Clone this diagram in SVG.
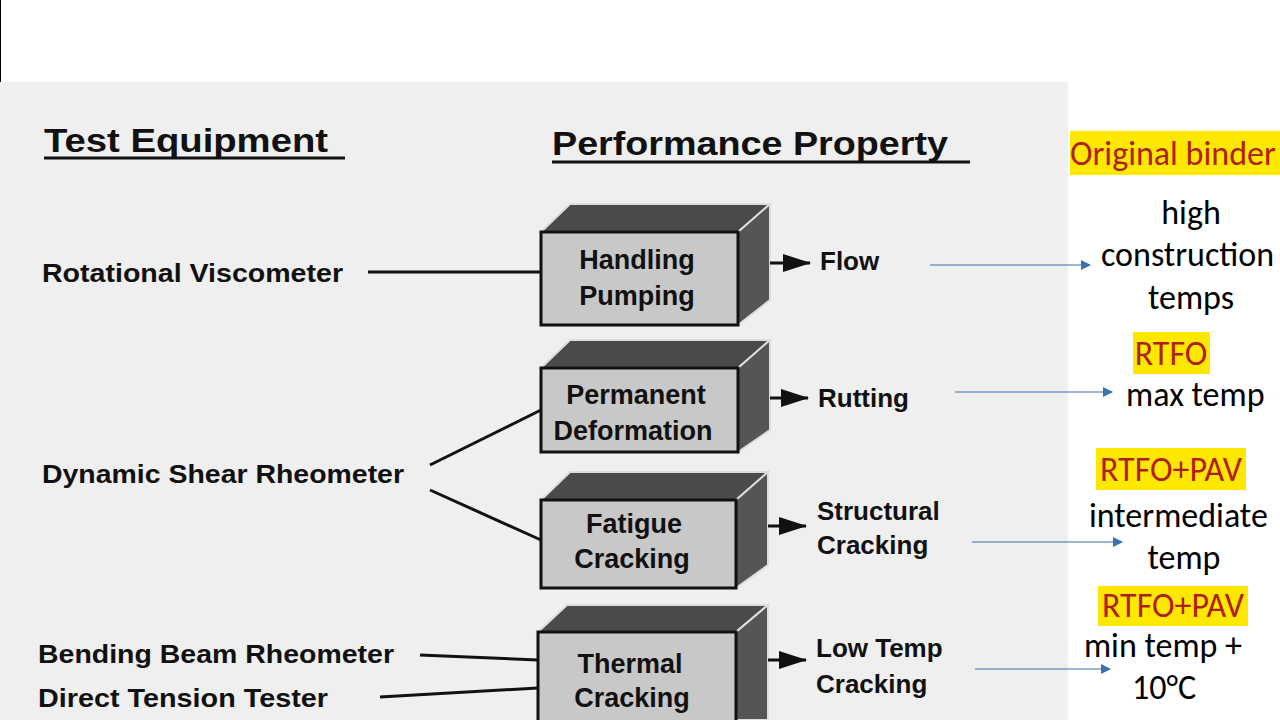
<svg xmlns="http://www.w3.org/2000/svg" width="1280" height="720" viewBox="0 0 1280 720">
<defs>
<marker id="ah" markerWidth="10" markerHeight="10" refX="9" refY="5" orient="auto" markerUnits="userSpaceOnUse"><path d="M0,0 L10,5 L0,10 Z" fill="#3a6fb0"/></marker>
<marker id="bh" markerWidth="28" markerHeight="18" refX="27" refY="9" orient="auto" markerUnits="userSpaceOnUse"><path d="M0,0 L28,9 L0,18 Z" fill="#111"/></marker>
</defs>
<style>
.t{font-family:"Liberation Sans",Arial,sans-serif;font-weight:bold;fill:#111}
.h{font-size:33px}
.l{font-size:26px}
.b{font-size:27px;text-anchor:middle}
.front{fill:#c8c8c8;stroke:#111;stroke-width:3}
.top{fill:#4a4a4a;stroke:#ddd;stroke-width:2}
.side{fill:#555;stroke:#ddd;stroke-width:2}
.c{stroke:#111;stroke-width:3;fill:none}
.bl{stroke:#3a6fb0;stroke-width:1.2;fill:none}
.r{font-family:"Carlito","Liberation Sans",sans-serif;font-size:34px;text-anchor:middle}
.hl{fill:#ffe800}
</style>
<rect width="1280" height="720" fill="#fff"/>
<rect x="0" y="82" width="1068" height="638" fill="#eeefee"/>
<line x1="0.5" y1="0" x2="0.5" y2="82" stroke="#000"/>
<text class="t h" x="44" y="152" textLength="284" lengthAdjust="spacingAndGlyphs">Test Equipment</text>
<line x1="44" y1="158" x2="345" y2="158" stroke="#111" stroke-width="3"/>
<text class="t h" x="552" y="155" textLength="396" lengthAdjust="spacingAndGlyphs">Performance Property</text>
<line x1="552" y1="162" x2="970" y2="162" stroke="#111" stroke-width="3"/>
<g id="n1"><path class="top" d="M541,232 L570,204 L770,204 L738,232 Z"/><path class="side" d="M738,232 L770,204 L770,300 L738,325 Z"/><rect class="front" x="541" y="232" width="197" height="93"/><text class="t b" x="637" y="269">Handling</text><text class="t b" x="637" y="305">Pumping</text></g>
<g id="n2"><path class="top" d="M541,368 L570,340 L770,340 L738,368 Z"/><path class="side" d="M738,368 L770,340 L770,430 L738,452 Z"/><rect class="front" x="541" y="368" width="197" height="84"/><text class="t b" x="636" y="404">Permanent</text><text class="t b" x="633" y="440">Deformation</text></g>
<g id="n3"><path class="top" d="M541,500 L570,472 L768,472 L736,500 Z"/><path class="side" d="M736,500 L768,472 L768,565 L736,588 Z"/><rect class="front" x="541" y="500" width="195" height="88"/><text class="t b" x="634" y="533">Fatigue</text><text class="t b" x="632" y="568">Cracking</text></g>
<g id="n4"><path class="top" d="M538,632 L567,605 L768,605 L736,632 Z"/><path class="side" d="M736,632 L768,605 L768,720 L736,720 Z"/><rect class="front" x="538" y="632" width="198" height="100"/><text class="t b" x="630" y="673">Thermal</text><text class="t b" x="632" y="707">Cracking</text></g>
<g id="labels">
<text class="t l" x="42" y="282" textLength="301" lengthAdjust="spacingAndGlyphs">Rotational Viscometer</text>
<text class="t l" x="42" y="483" textLength="362" lengthAdjust="spacingAndGlyphs">Dynamic Shear Rheometer</text>
<text class="t l" x="38" y="663" textLength="356" lengthAdjust="spacingAndGlyphs">Bending Beam Rheometer</text>
<text class="t l" x="38" y="707" textLength="290" lengthAdjust="spacingAndGlyphs">Direct Tension Tester</text>
<text class="t l" x="820" y="270">Flow</text>
<text class="t l" x="818" y="407">Rutting</text>
<text class="t l" x="817" y="520">Structural</text>
<text class="t l" x="817" y="554">Cracking</text>
<text class="t l" x="816" y="657">Low Temp</text>
<text class="t l" x="816" y="693">Cracking</text>
</g>
<g id="connectors">
<line class="c" x1="368" y1="272" x2="541" y2="272"/>
<line class="c" x1="430" y1="465" x2="541" y2="410"/>
<line class="c" x1="430" y1="490" x2="541" y2="540"/>
<line class="c" x1="420" y1="655" x2="538" y2="660"/>
<line class="c" x1="380" y1="697" x2="538" y2="688"/>
<line class="c" x1="770" y1="263" x2="810" y2="263" marker-end="url(#bh)"/>
<line class="c" x1="770" y1="398" x2="808" y2="398" marker-end="url(#bh)"/>
<line class="c" x1="768" y1="526" x2="806" y2="526" marker-end="url(#bh)"/>
<line class="c" x1="768" y1="660" x2="806" y2="660" marker-end="url(#bh)"/>
<line class="bl" x1="930" y1="265" x2="1090" y2="265" marker-end="url(#ah)"/>
<line class="bl" x1="955" y1="392" x2="1112" y2="392" marker-end="url(#ah)"/>
<line class="bl" x1="972" y1="542" x2="1122" y2="542" marker-end="url(#ah)"/>
<line class="bl" x1="975" y1="669" x2="1110" y2="669" marker-end="url(#ah)"/>
</g>
<g id="notes">
<rect class="hl" x="1070" y="131" width="210" height="44"/>
<text class="r" x="1070" y="165" fill="#b0201a" style="text-anchor:start">Original binder</text>
<text class="r" x="1191" y="224">high</text>
<text class="r" x="1101" y="266" style="text-anchor:start">construction</text>
<text class="r" x="1191" y="309">temps</text>
<rect class="hl" x="1133" y="332" width="77" height="42"/>
<text class="r" x="1171" y="365" fill="#b0201a">RTFO</text>
<text class="r" x="1126" y="406" style="text-anchor:start">max temp</text>
<rect class="hl" x="1096" y="448" width="150" height="42"/>
<text class="r" x="1171" y="481" fill="#b0201a">RTFO+PAV</text>
<text class="r" x="1089" y="527" style="text-anchor:start">intermediate</text>
<text class="r" x="1184" y="569">temp</text>
<rect class="hl" x="1098" y="586" width="150" height="40"/>
<text class="r" x="1173" y="617" fill="#b0201a">RTFO+PAV</text>
<text class="r" x="1163" y="657">min temp +</text>
<text class="r" x="1164" y="699">10°C</text>
</g>
</svg>
